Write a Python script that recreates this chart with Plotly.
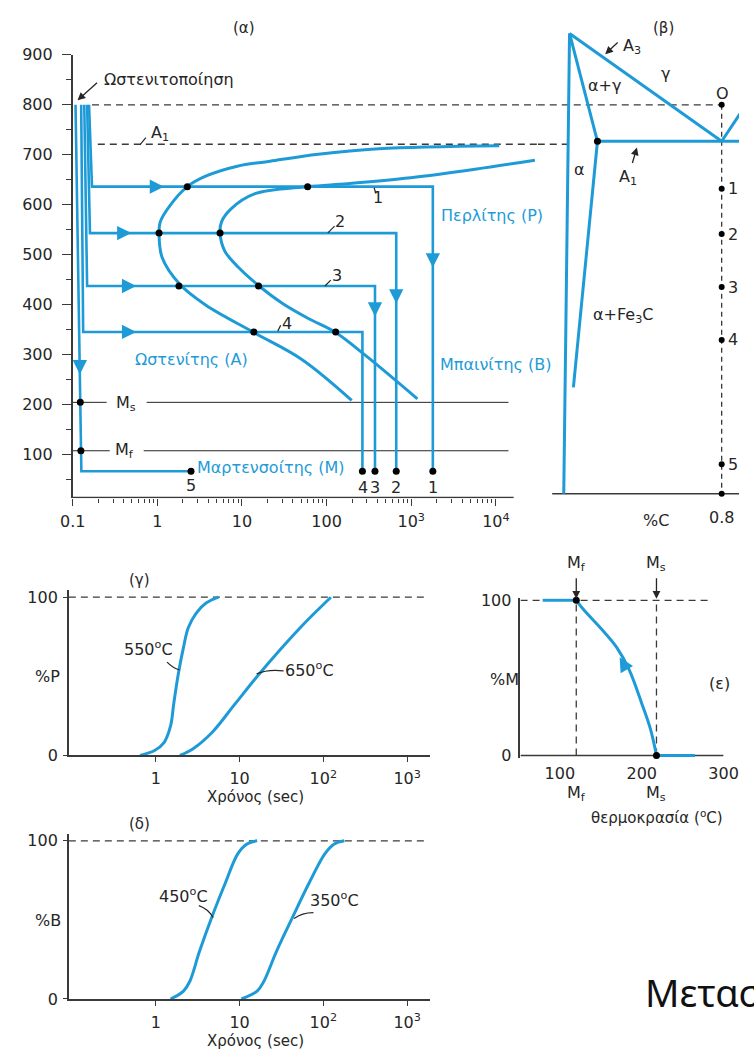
import math
import plotly.graph_objects as go

W, H = 754, 1063
BLUE = "#1e9bd7"
INK = "#262626"
AX = "#3a3a3a"
FONT = "DejaVu Sans, Verdana, sans-serif"

# ================= DATA =================
# (α) TTT diagram: time (s, log axis) vs temperature (°C)
alpha_tickvals = [0.1, 1, 10, 100, 1000, 10000]
alpha_ticktext = ["0.1", "1", "10", "100", "10<sup>3</sup>", "10<sup>4</sup>"]
alpha_yticks = [100, 200, 300, 400, 500, 600, 700, 800, 900]
alpha_yminor = [50, 150, 250, 350, 450, 550, 650, 750, 850]
aust_T = 800
A1_T_alpha = 721
quench_T = 66
Ms_T = 204
Mf_T = 107

path_names = ["1", "2", "3", "4"]
path_t_top = [0.156, 0.148, 0.137, 0.126]
path_t_bot = [0.169, 0.160, 0.148, 0.133]
path_T_hold = [636, 543, 437, 345]
path_t_end = [1800, 665, 373, 265]
path_arrow_t = [1.2, 0.494, 0.563, 0.563]
path_arrow_T_down = [474, 402, 376, None]

p5_t = [0.108, 0.1266, 2.5]
p5_T = [800, 66, 66]
p5_arrow_T = 260

start_t = [10965, 415, 79.6, 21.5, 8.81, 3.72, 2.26, 1.41, 1.08, 1.048, 1.14, 1.83, 3.72, 13.8, 51, 198]
start_T = [718, 712, 701, 687, 677, 657, 636, 598, 565, 543, 494, 441, 399, 344, 290, 208]
finish_t = [28900, 5690, 984, 175, 59.7, 13.8, 7.48, 5.75, 5.51, 6.27, 9.0, 15.7, 30.2, 60.8, 128, 293, 1183]
finish_T = [689, 671, 654, 642, 636, 621, 592, 566, 543, 507, 475, 438, 402, 372, 344, 297, 211]

cross_t = [2.26, 59.7, 1.048, 5.51, 1.80, 15.7, 13.8, 128]
cross_T = [636, 636, 543, 543, 437, 437, 345, 345]
ms_dot_t = [0.123, 0.125]
ms_seg1_t = [0.1, 0.252]
ms_seg2_t = [0.748, 14100]
mf_seg1_t = [0.1, 0.274]
mf_seg2_t = [0.69, 14100]

# (β) Fe-C diagram: %C vs temperature
fe_C, fe_T = [-0.02, 0.01], [21, 943]
aag_C, aag_T = [0.01, 0.155], [943, 727]
solvus_C, solvus_T = [0.155, 0.03], [727, 234]
A3_C, A3_T = [0.01, 0.8], [943, 727]
Acm_C, Acm_T = [0.8, 0.9], [727, 785]
A1_C, A1_T = [0.155, 0.9], [727, 727]
eut_C = 0.8
beta_dot_T = [800, 632, 541, 435, 329, 80, 21]
beta_dot_lab = ["", "1", "2", "3", "4", "5", ""]
beta_base_T = 21

# (γ) %Pearlite vs time
g_ticks = [1, 10, 100, 1000]
g_ticktext = ["1", "10", "10<sup>2</sup>", "10<sup>3</sup>"]
p550_t = [0.649, 0.966, 1.26, 1.50, 1.64, 1.86, 2.14, 2.44, 3.04, 3.98, 5.6]
p550_P = [0, 3.1, 8.3, 18.6, 33, 51.8, 68.3, 80.7, 90, 96.3, 100]
p650_t = [1.94, 2.76, 4.69, 8.69, 16.1, 29.9, 55.4, 86.3, 123]
p650_P = [0, 4.1, 14.5, 32.1, 49.7, 66.3, 81.8, 92.1, 100]

# (δ) %Bainite vs time
b450_t = [1.50, 2.14, 2.55, 3.31, 4.73, 6.76, 9.55, 12.4, 16.2]
b450_B = [0, 5, 11.2, 29.8, 52.6, 73.3, 91.9, 98.1, 100]
b350_t = [10.5, 16.2, 19.5, 27.5, 43.7, 67.6, 105, 135, 178]
b350_B = [0, 5, 11.2, 30, 52.6, 73.3, 92, 98, 100]

# (ε) %Martensite vs temperature
eps_Mf, eps_Ms = 120, 218
m_top_T, m_top_M = [79, 120], [100, 100]
m_T = [120, 129.4, 149.4, 169.4, 184.7, 200, 210.6, 218]
m_M = [100, 93.7, 82.3, 69.6, 55.1, 33.5, 17.1, 0]
m_bot_T, m_bot_M = [218, 265], [0, 0]

# ================= FIGURE =================
A, B, G, D, E = ("x", "y"), ("x2", "y2"), ("x3", "y3"), ("x4", "y4"), ("x5", "y5")
traces = []
anns = []
shapes = []


def line(x, y, ax, color=BLUE, width=2.6, dash=None, shape="linear"):
    traces.append(go.Scatter(x=x, y=y, xaxis=ax[0], yaxis=ax[1], mode="lines",
                             line=dict(color=color, width=width, dash=dash, shape=shape,
                                       smoothing=1.0 if shape == "spline" else None),
                             hoverinfo="skip", showlegend=False))


def dots(x, y, ax, size=7):
    traces.append(go.Scatter(x=x, y=y, xaxis=ax[0], yaxis=ax[1], mode="markers",
                             marker=dict(color="black", size=size), hoverinfo="skip",
                             showlegend=False, cliponaxis=False))


def txt(text, x, y, size=16, color=INK, xanchor="center", family=FONT):
    anns.append(dict(text=text, x=x / W, y=1 - y / H, xref="paper", yref="paper",
                     showarrow=False, xanchor=xanchor, yanchor="middle",
                     font=dict(size=size, color=color, family=family)))


def datatxt(text, x, y, ax, size=16, color=INK, xanchor="left"):
    anns.append(dict(text=text, x=x, y=y, xref=ax[0], yref=ax[1], showarrow=False,
                     xanchor=xanchor, yanchor="middle", font=dict(size=size, color=color, family=FONT)))


def blue_arrow(x, y, ax, dx, dy):
    anns.append(dict(text="", x=x, y=y, xref=ax[0], yref=ax[1], showarrow=True,
                     ax=dx, ay=dy, arrowhead=2, arrowsize=1.1, arrowwidth=2.6,
                     arrowcolor=BLUE, standoff=0))


def black_arrow_px(tip, tail):
    anns.append(dict(text="", x=tip[0] / W, y=1 - tip[1] / H, xref="paper", yref="paper",
                     showarrow=True, ax=tail[0] - tip[0], ay=tail[1] - tip[1],
                     arrowhead=2, arrowsize=1.2, arrowwidth=1.3, arrowcolor=INK, standoff=0))


def P(x, y):
    return f"{x / W:.5f},{1 - y / H:.5f}"


def leader(p0, p1, c=None):
    if c is None:
        path = f"M {P(*p0)} L {P(*p1)}"
    else:
        path = f"M {P(*p0)} Q {P(*c)} {P(*p1)}"
    shapes.append(dict(type="path", path=path, xref="paper", yref="paper",
                       line=dict(color=INK, width=1.2)))


lg = math.log10
x_alpha_max = 4.495
x_alpha_base = 4.21

# ----- (α) -----
line([0.169, 10 ** x_alpha_max], [aust_T, aust_T], A, color=AX, width=1.3, dash="7px,5px")
line([0.198, 10 ** x_alpha_max], [A1_T_alpha, A1_T_alpha], A, color=AX, width=1.3, dash="7px,5px")
line(ms_seg1_t, [Ms_T, Ms_T], A, color=INK, width=1)
line(ms_seg2_t, [Ms_T, Ms_T], A, color=INK, width=1)
line(mf_seg1_t, [Mf_T, Mf_T], A, color=INK, width=1)
line(mf_seg2_t, [Mf_T, Mf_T], A, color=INK, width=1)
line([0.1, 10 ** x_alpha_base], [13.3, 13.3], A, color=AX, width=1.5)
for i in range(4):
    line([path_t_top[i], path_t_bot[i], path_t_end[i], path_t_end[i]],
         [aust_T, path_T_hold[i], path_T_hold[i], quench_T], A)
line(p5_t, p5_T, A)
line(start_t, start_T, A, width=3, shape="spline")
line(finish_t, finish_T, A, width=3, shape="spline")
dots(cross_t, cross_T, A)
dots(ms_dot_t, [Ms_T, Mf_T], A)
dots(path_t_end + [p5_t[-1]], [quench_T] * 5, A)
for i in range(4):
    blue_arrow(lg(path_arrow_t[i]), path_T_hold[i], A, -14, 0)
    if path_arrow_T_down[i] is not None:
        blue_arrow(lg(path_t_end[i]), path_arrow_T_down[i], A, 0, -14)
frac = (p5_T[0] - p5_arrow_T) / (p5_T[0] - p5_T[1])
p5_arrow_x = lg(p5_t[0]) + (lg(p5_t[1]) - lg(p5_t[0])) * frac
blue_arrow(p5_arrow_x, p5_arrow_T, A, 0, -14)

# ----- (β) -----
line([-0.155, eut_C], [aust_T, aust_T], B, color=AX, width=1.3, dash="7px,5px")
line([-0.155, 0.0], [A1_T_alpha, A1_T_alpha], B, color=AX, width=1.3, dash="7px,5px")
line([eut_C, eut_C], [aust_T, beta_base_T], B, color=AX, width=1.3, dash="5px,4px")
line([-0.08, 0.89], [beta_base_T, beta_base_T], B, color=AX, width=1.5)
line(fe_C, fe_T, B, width=3)
line(aag_C, aag_T, B, width=3)
line(solvus_C, solvus_T, B, width=3)
line(A3_C, A3_T, B, width=3)
line(Acm_C, Acm_T, B, width=3)
line(A1_C, A1_T, B, width=3)
dots([eut_C] * len(beta_dot_T), beta_dot_T, B, size=6)
dots([aag_C[1]], [aag_T[1]], B, size=7)
for lab, t in zip(beta_dot_lab, beta_dot_T):
    if lab:
        datatxt(lab, eut_C + 0.025, t, B)

# ----- (γ) -----
line([10 ** -1.038, 10 ** 3.207], [100, 100], G, color=AX, width=1.3, dash="7px,5px")
line(p550_t, p550_P, G, width=3, shape="spline")
line(p650_t, p650_P, G, width=3, shape="spline")

# ----- (δ) -----
line([10 ** -1.038, 10 ** 3.207], [100, 100], D, color=AX, width=1.3, dash="7px,5px")
line(b450_t, b450_B, D, width=3, shape="spline")
line(b350_t, b350_B, D, width=3, shape="spline")

# ----- (ε) -----
line([52, 281], [100, 100], E, color=AX, width=1.3, dash="7px,5px")
line([eps_Mf, eps_Mf], [0, 100], E, color=AX, width=1.3, dash="7px,5px")
line([eps_Ms, eps_Ms], [0, 100], E, color=AX, width=1.3, dash="7px,5px")
line([51.8, 300], [0, 0], E, color=AX, width=1.5)
line(m_top_T, m_top_M, E, width=3)
line(m_T, m_M, E, width=3, shape="spline")
line(m_bot_T, m_bot_M, E, width=3)
dots([eps_Mf, eps_Ms], [100, 0], E, size=7)
blue_arrow(173, 63.3, E, 7, 12)
for xv in (eps_Mf, eps_Ms):
    anns.append(dict(text="", x=xv, y=101, xref="x5", yref="y5", showarrow=True, ax=0, ay=-22,
                     arrowhead=2, arrowsize=1.2, arrowwidth=1.3, arrowcolor=INK, standoff=0))

# ----- text labels -----
txt("(α)", 240, 19, size=15)
txt("Ωστενιτοποίηση", 92, 72, xanchor="left")
black_arrow_px((67, 93), (88, 74))
txt("A<sub>1</sub>", 153, 127)
leader((132, 138), (138, 131))
txt("Περλίτης (P)", 497, 210, color=BLUE)
txt("Ωστενίτης (A)", 185, 357, color=BLUE)
txt("Μπαινίτης (B)", 501, 362, color=BLUE)
txt("Μαρτενσοίτης (M)", 268, 467, color=BLUE)
txt("M<sub>s</sub>", 117, 402)
txt("M<sub>f</sub>", 116, 450)
txt("5", 185, 485)
for lab, xp in zip(["4", "3", "2", "1"], [363, 376, 398, 436]):
    txt(lab, xp, 487)
txt("1", 379, 192)
leader((375, 182), (377, 188))
txt("2", 340, 216)
leader((327, 228), (334, 221))
txt("3", 337, 271)
leader((324, 282), (330, 276))
txt("4", 285, 320)
leader((275, 328), (278, 322))

txt("(β)", 676, 19, size=15)
txt("A<sub>3</sub>", 643, 38)
black_arrow_px((615, 46), (629, 33))
txt("γ", 678, 66)
txt("α+γ", 614, 78)
txt("O", 737, 86)
txt("α", 588, 163)
txt("A<sub>1</sub>", 639, 172)
black_arrow_px((648, 141), (643, 158))
txt("α+Fe<sub>3</sub>C", 634, 312)
txt("%C", 668, 521)
txt("0.8", 736, 518)

txt("(γ)", 131, 581, size=15)
txt("%P", 36, 680)
txt("550<sup>o</sup>C", 141, 651)
leader((160, 665), (173, 673), (166, 671))
txt("650<sup>o</sup>C", 308, 673)
leader((253, 677), (281, 674), (265, 672))
txt("Χρόνος (sec)", 252, 802, size=15)

txt("(δ)", 131, 830, size=15)
txt("%B", 36, 928)
txt("450<sup>o</sup>C", 177, 903)
leader((193, 913), (208, 925), (202, 916))
txt("350<sup>o</sup>C", 334, 907)
leader((312, 920), (292, 926), (300, 920))
txt("Χρόνος (sec)", 252, 1051, size=15)

txt("M<sub>f</sub>", 585, 565)
txt("M<sub>s</sub>", 668, 565)
txt("%M", 510, 683)
txt("(ε)", 734, 687)
txt("M<sub>f</sub>", 585, 799)
txt("M<sub>s</sub>", 668, 799)
txt("θερμοκρασία (<sup>o</sup>C)", 669, 823, size=15)

txt("Μετασχηματισμοί", 654, 1001, size=38, color="#111111", xanchor="left", family="Noto Sans, sans-serif")

# ================= LAYOUT =================
tickfont = dict(size=16, color=INK, family=FONT)


def dom_x(a, b):
    return [a / W, b / W]


def dom_y(top, bot):
    return [1 - bot / H, 1 - top / H]


hidden = dict(visible=False)
layout = dict(
    width=W, height=H, margin=dict(l=0, r=0, t=0, b=0, pad=0),
    paper_bgcolor="white", plot_bgcolor="rgba(0,0,0,0)", showlegend=False,
    xaxis=dict(domain=dom_x(62, 545), type="log", range=[-1, x_alpha_max], anchor="y",
               showline=False, showgrid=False, zeroline=False,
               tickvals=alpha_tickvals, ticktext=alpha_ticktext, ticks="outside",
               ticklen=7, tickwidth=1.3, tickcolor=AX, tickfont=tickfont, ticklabelstandoff=2,
               minor=dict(tickvals=[m * d for d in (0.1, 1, 10, 100, 1000) for m in range(2, 10)],
                          ticks="outside", ticklen=4, tickwidth=1, tickcolor=AX, showgrid=False)),
    yaxis=dict(domain=dom_y(46.7, 498.1), range=[12, 900], anchor="x",
               showline=True, linecolor=AX, linewidth=1.5, showgrid=False, zeroline=False,
               tickvals=alpha_yticks, ticks="outside", ticklen=9, tickwidth=1.3, tickcolor=AX,
               tickfont=tickfont, ticklabelstandoff=6,
               minor=dict(tickvals=alpha_yminor, ticks="outside", ticklen=5, tickwidth=1,
                          tickcolor=AX, showgrid=False)),
    xaxis2=dict(domain=dom_x(545, 754), range=[-0.155, 0.89], anchor="y2", **hidden),
    yaxis2=dict(domain=dom_y(15, 498.1), range=[12, 962.4], anchor="x2", **hidden),
    xaxis3=dict(domain=dom_x(58, 433), type="log", range=[-1.038, 3.272], anchor="y3",
                showline=True, linecolor=AX, linewidth=1.5, showgrid=False, zeroline=False,
                tickvals=g_ticks, ticktext=g_ticktext, ticks="outside", ticklen=5,
                tickcolor=AX, tickfont=tickfont, ticklabelstandoff=3),
    yaxis3=dict(domain=dom_y(592, 760), range=[0, 104.3], anchor="x3",
                showline=True, linecolor=AX, linewidth=1.5, showgrid=False, zeroline=False,
                tickvals=[0, 100], ticks="outside", ticklen=4, tickcolor=AX, tickfont=tickfont,
                ticklabelstandoff=2),
    xaxis4=dict(domain=dom_x(58, 433), type="log", range=[-1.038, 3.272], anchor="y4",
                showline=True, linecolor=AX, linewidth=1.5, showgrid=False, zeroline=False,
                tickvals=g_ticks, ticktext=g_ticktext, ticks="outside", ticklen=5,
                tickcolor=AX, tickfont=tickfont, ticklabelstandoff=3),
    yaxis4=dict(domain=dom_y(840, 1008), range=[0, 104.3], anchor="x4",
                showline=True, linecolor=AX, linewidth=1.5, showgrid=False, zeroline=False,
                tickvals=[0, 100], ticks="outside", ticklen=4, tickcolor=AX, tickfont=tickfont,
                ticklabelstandoff=2),
    xaxis5=dict(domain=dom_x(527, 738), range=[51.8, 300], anchor="y5",
                showline=False, showgrid=False, zeroline=False,
                tickvals=[100, 200, 300], ticks="", tickfont=tickfont, ticklabelstandoff=4),
    yaxis5=dict(domain=dom_y(600, 762.4), range=[-1.5, 101.3], anchor="x5",
                showline=True, linecolor=AX, linewidth=1.5, showgrid=False, zeroline=False,
                tickvals=[0, 100], ticks="", tickfont=tickfont, ticklabelstandoff=4),
    annotations=anns, shapes=shapes,
)

fig = go.Figure(data=traces, layout=layout)
fig.write_html("out.html",
               post_script="document.body.style.margin='0px';"
                           "document.documentElement.style.margin='0px';")
